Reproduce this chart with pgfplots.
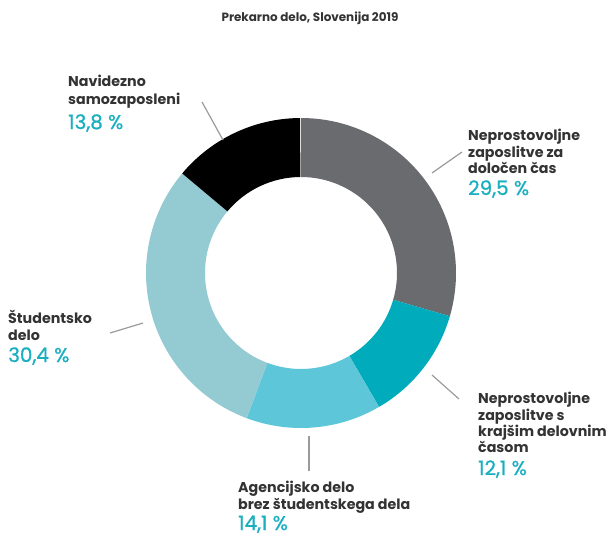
\documentclass[border=0pt]{standalone}
\usepackage{fontspec}
\setmainfont{Poppins}
\newfontfamily\pctfont[FakeBold=0.9]{Poppins}
\usepackage{pgfplots}
\usepackage{pgfplotstable}
\pgfplotsset{compat=1.18}
\definecolor{cGray}{HTML}{6A6B6E}
\definecolor{cTeal}{HTML}{00ACBB}
\definecolor{cBlue}{HTML}{5DC6D9}
\definecolor{cPale}{HTML}{94CBD3}
\definecolor{txt}{HTML}{333333}
\definecolor{pct}{HTML}{1AAFC0}
\definecolor{lead}{HTML}{9A9A9A}

% share of precarious work, clockwise from the top
\pgfplotstableread{
value col
29.5 cGray
12.1 cTeal
14.1 cBlue
30.4 cPale
13.8 black
}\donut

\begin{document}
\begin{tikzpicture}[
  lab/.style={anchor=base west, inner sep=0pt, text=txt, font=\fontsize{14.3}{16}\selectfont\bfseries},
  per/.style={anchor=base west, inner sep=0pt, text depth=0pt, text=pct, font=\fontsize{20}{22}\selectfont\pctfont},
]
\begin{axis}[
  width=615bp, height=537bp, scale only axis,
  xmin=0, xmax=615, ymin=0, ymax=537, y dir=reverse,
  hide axis, clip=false,
]
\path (axis cs:0,0) rectangle (axis cs:615,537);
\def\cx{301}\def\cy{273}
\gdef\angA{90}
\pgfplotsinvokeforeach{0,...,4}{
  \pgfplotstablegetelem{#1}{value}\of\donut \let\v\pgfplotsretval
  \pgfplotstablegetelem{#1}{col}\of\donut \let\c\pgfplotsretval
  \pgfmathsetmacro\angB{\angA-3.6*\v}
  \pgfmathsetmacro\xa{\cx+155*cos(\angA)}
  \pgfmathsetmacro\ya{\cy-155*sin(\angA)}
  \pgfmathsetmacro\xb{\cx+96*cos(\angB)}
  \pgfmathsetmacro\yb{\cy-96*sin(\angB)}
  \edef\temp{\noexpand\fill[\c] (axis cs:\xa,\ya) arc[start angle=\angA, end angle=\angB, radius=155bp]
    -- (axis cs:\xb,\yb) arc[start angle=\angB, end angle=\angA, radius=96bp] -- cycle;}
  \temp
  \global\let\angA\angB
}

% title
\node[anchor=base, inner sep=0pt, text=txt, font=\fontsize{12}{14}\selectfont\bfseries]
  at (axis cs:310,22) {Prekarno delo, Slovenija 2019};

% leader lines
\draw[lead, line width=1.2bp] (axis cs:202,102) -- (axis cs:223,140);
\draw[lead, line width=1.2bp] (axis cs:462,152) -- (axis cs:432,173);
\draw[lead, line width=1.2bp] (axis cs:110,333) -- (axis cs:143,323);
\draw[lead, line width=1.2bp] (axis cs:432,375) -- (axis cs:459,399);
\draw[lead, line width=1.2bp] (axis cs:309,436) -- (axis cs:309,471);

% labels
\node[lab] at (axis cs:68,87) {Navidezno};
\node[lab] at (axis cs:68,104) {samozaposleni};
\node[per] at (axis cs:68,129) {13,8 \%};

\node[lab] at (axis cs:468,140) {Neprostovoljne};
\node[lab] at (axis cs:468,157) {zaposlitve za};
\node[lab] at (axis cs:468,173) {določen čas};
\node[per] at (axis cs:468,195) {29,5 \%};

\node[lab] at (axis cs:8,323) {Študentsko};
\node[lab] at (axis cs:8,340) {delo};
\node[per] at (axis cs:8,362) {30,4 \%};

\node[lab] at (axis cs:478,403) {Neprostovoljne};
\node[lab] at (axis cs:478,420) {zaposlitve s};
\node[lab] at (axis cs:478,436) {krajšim delovnim};
\node[lab] at (axis cs:478,452) {časom};
\node[per] at (axis cs:478,475) {12,1 \%};

\node[lab] at (axis cs:238,492) {Agencijsko delo};
\node[lab] at (axis cs:238,509) {brez študentskega dela};
\node[per] at (axis cs:238,530) {14,1 \%};
\end{axis}
\end{tikzpicture}
\end{document}
